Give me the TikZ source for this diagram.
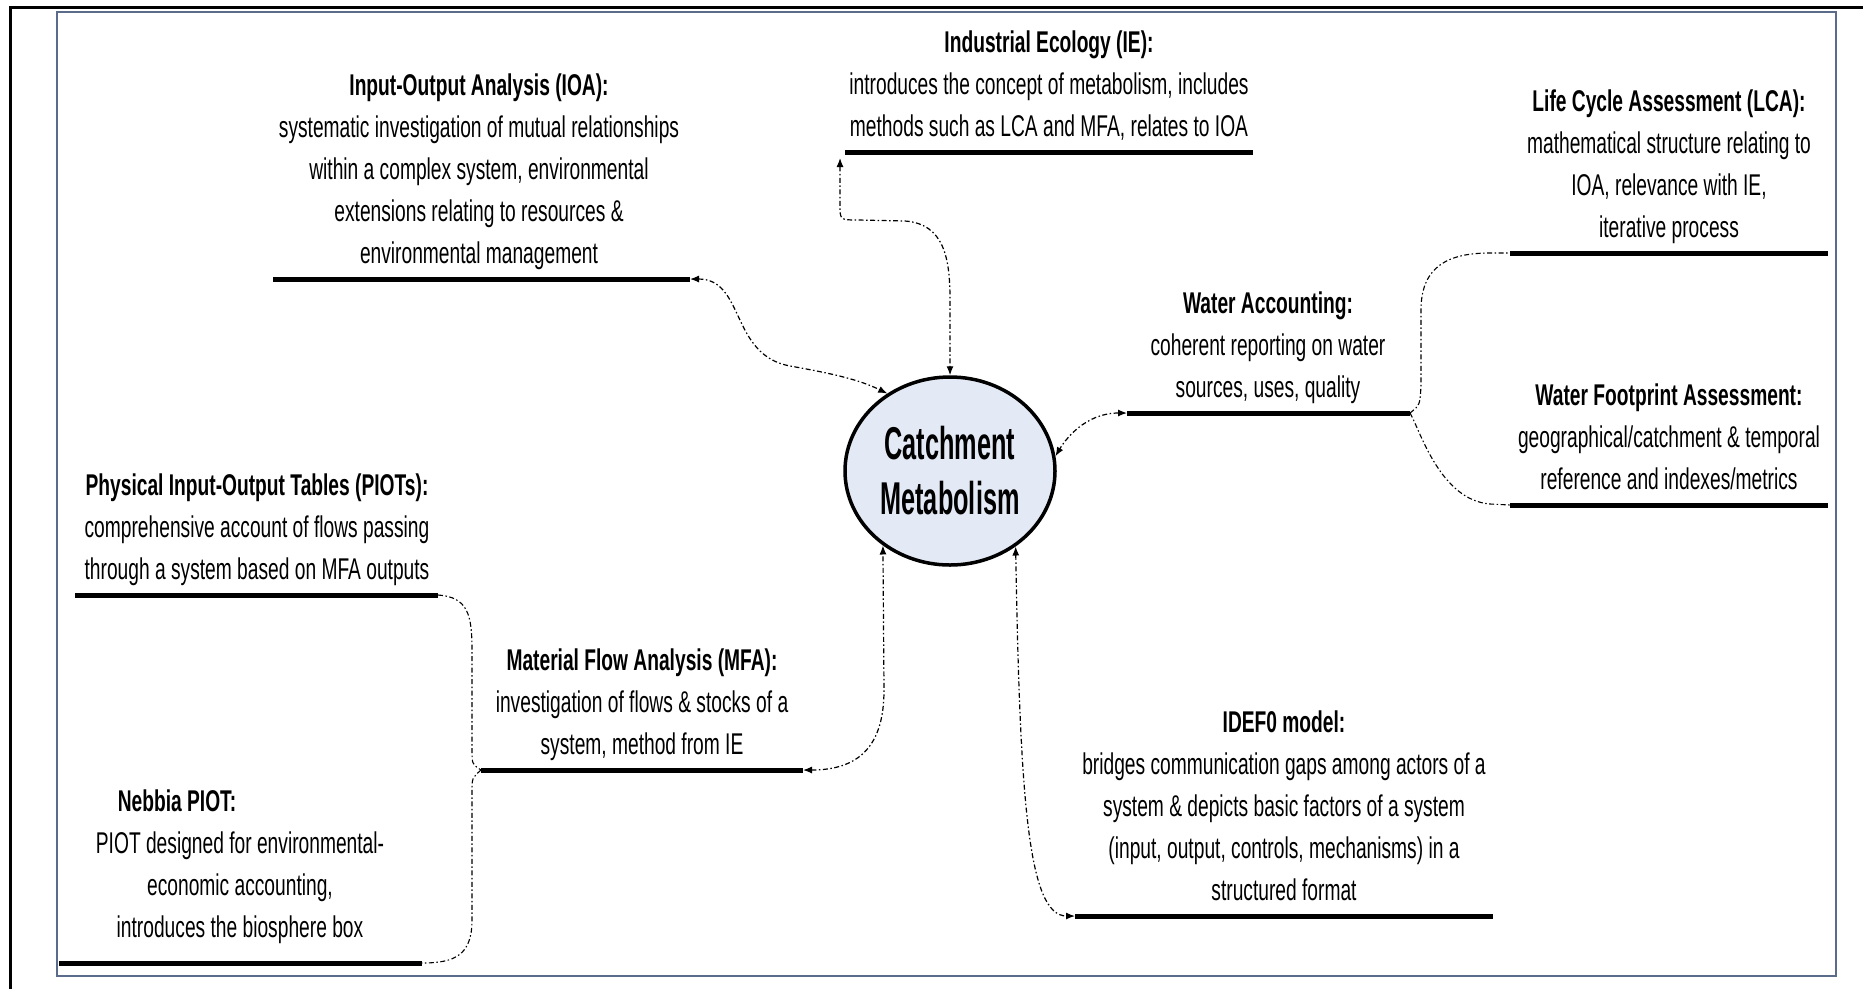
\documentclass[tikz,border=0pt]{standalone}
\usepackage{fontspec}
\setmainfont{Liberation Sans}
\newfontfamily\bodyfont{Liberation Sans}[FakeStretch=0.64]
\newfontfamily\hubfont{Liberation Sans}[FakeStretch=0.55]
\usetikzlibrary{arrows.meta,shapes.geometric}
\definecolor{framec}{HTML}{5B6C8A}
\definecolor{hubfill}{HTML}{E4EAF5}
\tikzset{
  txt/.style={font=\bodyfont\fontsize{30}{42}\selectfont, align=center,
    inner sep=0pt, anchor=south,
    execute at begin node=\strut, execute at end node=\strut},
  uline/.style={line width=5pt},
  conn/.style={line width=1.2pt, dash pattern=on 5pt off 2.5pt on 1.5pt off 2.5pt,
    {Latex[length=9pt,width=7pt]}-{Latex[length=9pt,width=7pt]}},
  brace/.style={line width=1.1pt, dash pattern=on 5pt off 2.5pt on 1.5pt off 2.5pt},
  hub/.style={ellipse, draw, line width=3.5pt, fill=hubfill, inner sep=0pt,
    minimum width=210pt, minimum height=188pt, align=center,
    font=\hubfont\bfseries\fontsize{46}{55}\selectfont}
}
\begin{document}
\begin{tikzpicture}[x=1pt,y=-1pt]
\useasboundingbox (0,0) rectangle (1863,989);
% page frame
\draw[line width=3pt] (10,989) -- (10,7) -- (1863,7);
\draw[framec, line width=2.5pt] (57,12) rectangle (1836,976);

% central concept
\node[hub] (cm) at (950,471) {Catchment\\Metabolism};

% underline end points
\coordinate (ioa-w) at (273,279);  \coordinate (ioa-e) at (690,279);
\coordinate (ie-w) at (845,152);   \coordinate (ie-e) at (1253,152);
\coordinate (ie-tip) at (840,158);
\coordinate (lca-w) at (1510,253); \coordinate (lca-e) at (1828,253);
\coordinate (wfa-w) at (1510,505); \coordinate (wfa-e) at (1828,505);
\coordinate (wa-w) at (1127,413);  \coordinate (wa-e) at (1410,413);
\coordinate (piot-w) at (75,595);  \coordinate (piot-e) at (438,595);
\coordinate (mfa-w) at (481,770);  \coordinate (mfa-e) at (803,770);
\coordinate (neb-w) at (59,963);   \coordinate (neb-e) at (422,963);
\coordinate (idef-w) at (1075,916);\coordinate (idef-e) at (1493,916);

% underlines
\foreach \n in {ioa,ie,lca,wfa,wa,piot,mfa,neb,idef}
  \draw[uline] (\n-w) -- (\n-e);

% text blocks
\node[txt] (ioa-t) at (479,276) {\textbf{Input-Output Analysis (IOA):}\\
  systematic investigation of mutual relationships\\
  within a complex system, environmental\\
  extensions relating to resources \&\\
  environmental management};
\node[txt] (ie-t) at (1049,149) {\textbf{Industrial Ecology (IE):}\\
  introduces the concept of metabolism, includes\\
  methods such as LCA and MFA, relates to IOA};
\node[txt] (lca-t) at (1669,250) {\textbf{Life Cycle Assessment (LCA):}\\
  mathematical structure relating to\\
  IOA, relevance with IE,\\
  iterative process};
\node[txt] (wfa-t) at (1669,502) {\textbf{Water Footprint Assessment:}\\
  geographical/catchment \& temporal\\
  reference and indexes/metrics};
\node[txt] (wa-t) at (1268,410) {\textbf{Water Accounting:}\\
  coherent reporting on water\\
  sources, uses, quality};
\node[txt] (piot-t) at (257,592) {\textbf{Physical Input-Output Tables (PIOTs):}\\
  comprehensive account of flows passing\\
  through a system based on MFA outputs};
\node[txt] (mfa-t) at (642,767) {\textbf{Material Flow Analysis (MFA):}\\
  investigation of flows \& stocks of a\\
  system, method from IE};
\node[txt] (neb-t) at (240,950) {\hspace*{-126pt}\textbf{Nebbia PIOT:}\\
  PIOT designed for environmental-\\
  economic accounting,\\
  introduces the biosphere box};
\node[txt] (idef-t) at (1284,913) {\textbf{IDEF0 model:}\\
  bridges communication gaps among actors of a\\
  system \& depicts basic factors of a system\\
  (input, output, controls, mechanisms) in a\\
  structured format};

% connectors to the central concept
\draw[conn] (ioa-e) .. controls (745,279) and (730,355) .. (790,366)
  .. controls (835,374) and (860,380) .. (cm.129);
\draw[conn] (ie-tip) -- (840,205) .. controls (840,220) .. (858,220) -- (905,221)
  .. controls (945,224) and (950,260) .. (950,300) -- (cm.north);
\draw[conn] (wa-w) .. controls (1085,413) and (1065,440) .. (cm.8);
\draw[conn] (mfa-e) .. controls (860,770) and (884,745) .. (884,690) -- (cm.228);
\draw[conn] (cm.311) .. controls (1020,800) and (1028,916) .. (idef-w);

% branching links
\draw[brace] (wa-e) .. controls (1420,405) .. (1421,385) -- (1421,310)
  .. controls (1421,265) and (1450,253) .. (1490,253) -- (lca-w);
\draw[brace] (wa-e) .. controls (1420,430) and (1440,500) .. (1490,504) -- (wfa-w);
\draw[brace] (piot-e) .. controls (468,597) and (472,615) .. (472,650) -- (472,750)
  .. controls (472,764) .. (mfa-w);
\draw[brace] (mfa-w) .. controls (472,778) .. (472,792) -- (472,920)
  .. controls (472,955) and (455,963) .. (neb-e);
\end{tikzpicture}
\end{document}
